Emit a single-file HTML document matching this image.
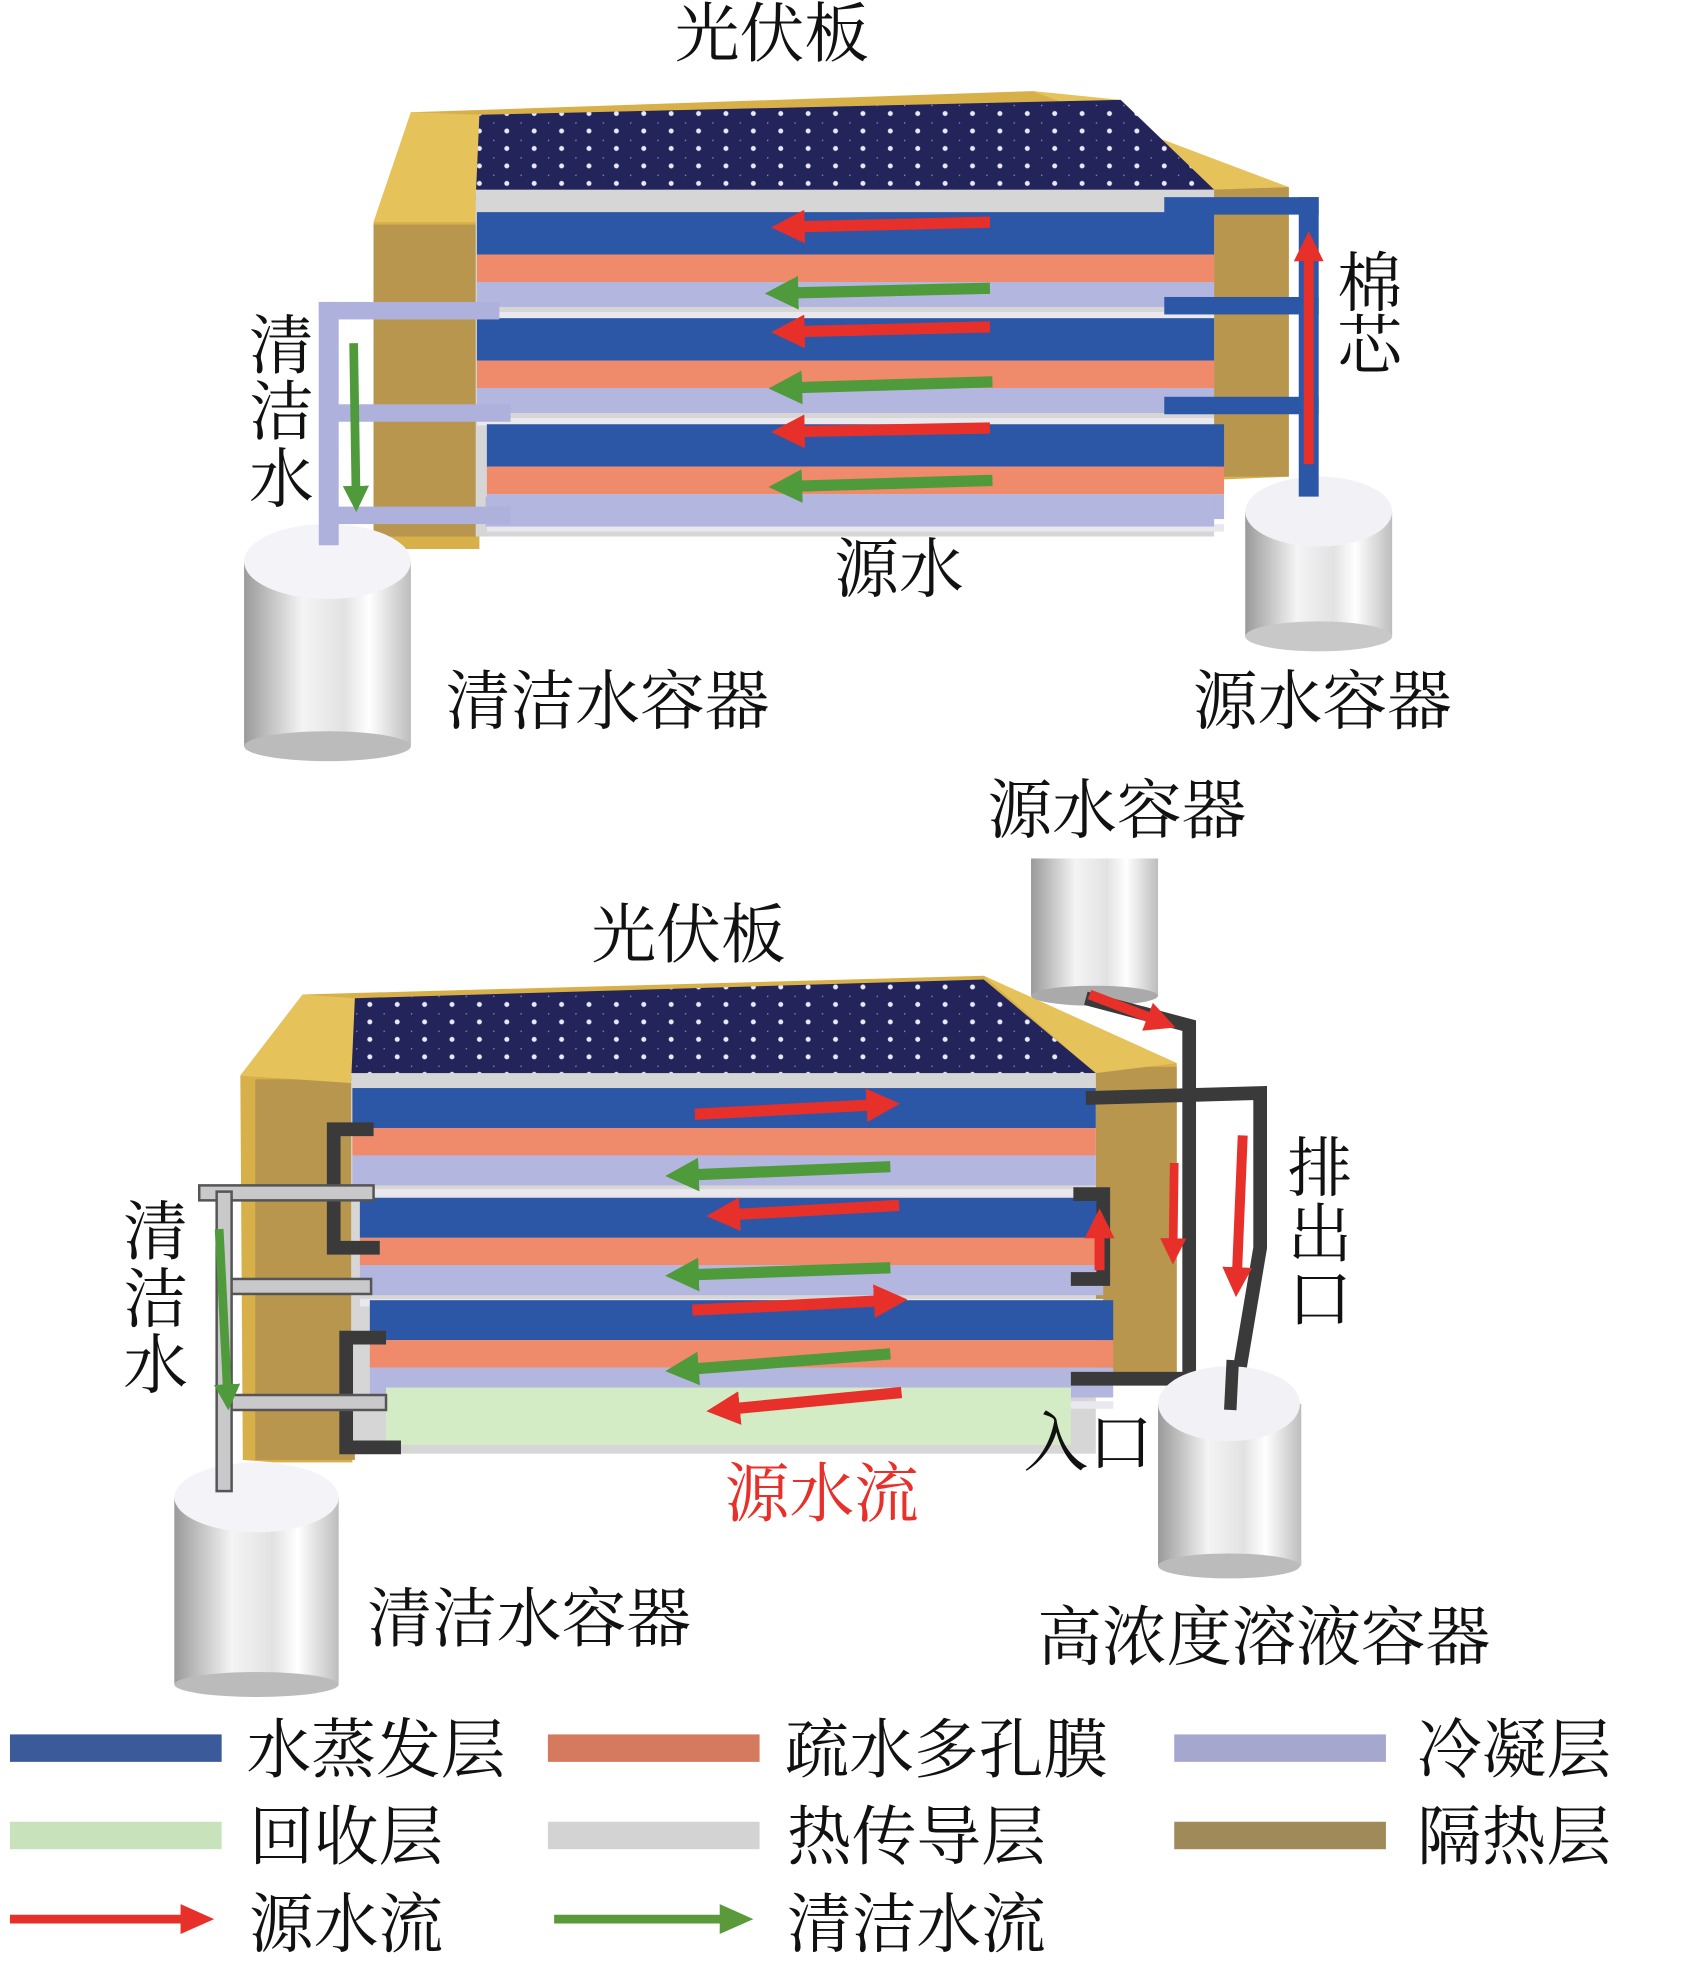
<!DOCTYPE html>
<html><head><meta charset="utf-8"><style>
html,body{margin:0;padding:0;background:#fff;}
svg{display:block;}
text{font-family:"Liberation Serif","Noto Serif CJK SC","Noto Sans CJK SC",serif;fill:#111;}
</style></head><body>
<svg width="1691" height="1964" viewBox="0 0 1358 1574" preserveAspectRatio="none" xmlns="http://www.w3.org/2000/svg">
<defs>
<linearGradient id="cyl" x1="0" x2="1" y1="0" y2="0">
<stop offset="0" stop-color="#9a9a9a"/><stop offset="0.35" stop-color="#f4f4f4"/><stop offset="0.6" stop-color="#e2e2e2"/><stop offset="0.75" stop-color="#ffffff"/><stop offset="1" stop-color="#bdbdbd"/>
</linearGradient>
<pattern id="dots" width="22" height="14" patternUnits="userSpaceOnUse">
<rect width="22" height="14" fill="#23245a"/><circle cx="11" cy="7" r="2" fill="#e8e8ff"/><circle cx="0" cy="0" r="1.2" fill="#8888cc"/>
</pattern>
<marker id="ar" viewBox="0 0 10 10" refX="6" refY="5" markerWidth="3" markerHeight="3" orient="auto"><path d="M0,0L10,5L0,10z" fill="#e8302a"/></marker>
<marker id="ag" viewBox="0 0 10 10" refX="6" refY="5" markerWidth="3" markerHeight="3" orient="auto"><path d="M0,0L10,5L0,10z" fill="#4f9a3a"/></marker>
</defs>

<!-- ===== TOP DIAGRAM ===== -->
<text x="620" y="45" font-size="52" text-anchor="middle">光伏板</text>
<polygon points="300,178 330,90 830,73 1035,150 1035,382 965,385 965,170 385,178 385,440 300,440" fill="#d8b04a"/>
<rect x="300" y="180" width="85" height="250" fill="#b8964e"/>
<rect x="965" y="150" width="70" height="232" fill="#b8964e"/>
<polygon points="300,178 330,90 385,92 385,178" fill="#e6c25a"/>
<polygon points="830,73 1035,150 975,152 900,80" fill="#e6c25a"/>
<polygon points="385,92 900,80 975,152 382,160" fill="url(#dots)"/>
<g>
<rect x="382" y="152" width="593" height="278" fill="#d6d6d6"/>
<g id="grpT">
<rect x="383" y="170" width="592" height="34" fill="#2c56a6"/>
<rect x="383" y="204" width="592" height="22" fill="#ef8a6a"/>
<rect x="383" y="226" width="592" height="20" fill="#b3b6de"/>
<rect x="383" y="250" width="592" height="6" fill="#e8e8ee"/>
</g>
<use href="#grpT" y="85"/>
<use href="#grpT" x="8" y="170"/>
<rect x="390" y="398" width="585" height="24" fill="#b3b6de"/>
</g>
<g stroke-width="9" fill="none">
<line x1="795" y1="178" x2="630" y2="182" stroke="#e8302a" marker-end="url(#ar)"/>
<line x1="795" y1="262" x2="630" y2="266" stroke="#e8302a" marker-end="url(#ar)"/>
<line x1="795" y1="343" x2="630" y2="346" stroke="#e8302a" marker-end="url(#ar)"/>
<line x1="795" y1="231" x2="625" y2="235" stroke="#4f9a3a" marker-end="url(#ag)"/>
<line x1="797" y1="306" x2="628" y2="311" stroke="#4f9a3a" marker-end="url(#ag)"/>
<line x1="797" y1="385" x2="628" y2="390" stroke="#4f9a3a" marker-end="url(#ag)"/>
</g>
<rect x="1000" y="410" width="118" height="100" fill="url(#cyl)"/>
<ellipse cx="1059" cy="410" rx="59" ry="28" fill="#f2f2f6"/>
<ellipse cx="1059" cy="510" rx="59" ry="12" fill="#c8c8c8"/>
<g fill="#2c56a6">
<rect x="1043" y="158" width="16" height="240"/>
<rect x="935" y="158" width="124" height="14"/>
<rect x="935" y="238" width="124" height="14"/>
<rect x="935" y="318" width="124" height="14"/>
</g>
<line x1="1051" y1="372" x2="1051" y2="195" stroke="#e8302a" stroke-width="8" marker-end="url(#ar)"/>
<rect x="196" y="450" width="134" height="148" fill="url(#cyl)"/>
<ellipse cx="263" cy="450" rx="67" ry="30" fill="#f4f4f8"/>
<ellipse cx="263" cy="598" rx="67" ry="12" fill="#bbb"/>
<g fill="#aeb1dc">
<rect x="256" y="242" width="16" height="195"/>
<rect x="256" y="242" width="145" height="14"/>
<rect x="270" y="324" width="140" height="14"/>
<rect x="270" y="406" width="140" height="14"/>
</g>
<line x1="284" y1="275" x2="286" y2="402" stroke="#4f9a3a" stroke-width="7" marker-end="url(#ag)"/>
<text x="226" y="295" font-size="52" text-anchor="middle">清</text>
<text x="226" y="348" font-size="52" text-anchor="middle">洁</text>
<text x="226" y="402" font-size="52" text-anchor="middle">水</text>
<text x="1100" y="245" font-size="52" text-anchor="middle">棉</text>
<text x="1100" y="295" font-size="52" text-anchor="middle">芯</text>
<text x="722" y="474" font-size="52" text-anchor="middle">源水</text>
<text x="358" y="580" font-size="52">清洁水容器</text>
<text x="958" y="580" font-size="52">源水容器</text>

<!-- ===== BOTTOM DIAGRAM ===== -->
<text x="793" y="667" font-size="52">源水容器</text>
<rect x="828" y="688" width="102" height="110" fill="url(#cyl)"/>
<ellipse cx="879" cy="798" rx="51" ry="8" fill="#aaa"/>
<text x="553" y="767" font-size="52" text-anchor="middle">光伏板</text>
<polygon points="193,862 243,797 790,782 945,852 945,1100 880,1100 880,865 283,868 283,1172 220,1172 195,1170" fill="#d8b04a"/>
<rect x="205" y="865" width="80" height="305" fill="#b8964e"/>
<rect x="880" y="855" width="65" height="245" fill="#b8964e"/>
<polygon points="193,862 243,797 285,800 283,868" fill="#e6c25a"/>
<polygon points="790,782 945,852 880,860" fill="#e6c25a"/>
<polygon points="285,800 790,785 880,860 282,866" fill="url(#dots)"/>
<rect x="282" y="860" width="598" height="305" fill="#d6d6d6"/>
<g id="grpB">
<rect x="283" y="872" width="597" height="32" fill="#2c56a6"/>
<rect x="283" y="904" width="597" height="22" fill="#ef8a6a"/>
<rect x="283" y="926" width="597" height="24" fill="#b3b6de"/>
<rect x="283" y="953" width="597" height="6" fill="#e8e8ee"/>
</g>
<use href="#grpB" x="6" y="88"/>
<use href="#grpB" x="14" y="170"/>
<rect x="310" y="1112" width="550" height="46" fill="#d4ecc6"/>
<g stroke-width="9" fill="none">
<line x1="558" y1="893" x2="712" y2="885" stroke="#e8302a" marker-end="url(#ar)"/>
<line x1="722" y1="966" x2="578" y2="974" stroke="#e8302a" marker-end="url(#ar)"/>
<line x1="556" y1="1050" x2="718" y2="1042" stroke="#e8302a" marker-end="url(#ar)"/>
<line x1="724" y1="1116" x2="578" y2="1130" stroke="#e8302a" marker-end="url(#ar)"/>
<line x1="715" y1="935" x2="545" y2="942" stroke="#4f9a3a" marker-end="url(#ag)"/>
<line x1="715" y1="1016" x2="545" y2="1022" stroke="#4f9a3a" marker-end="url(#ag)"/>
<line x1="715" y1="1085" x2="545" y2="1098" stroke="#4f9a3a" marker-end="url(#ag)"/>
</g>
<g fill="none" stroke="#3a3a3a" stroke-width="11" stroke-linejoin="miter">
<polyline points="300,905 268,905 268,1000 305,1000"/>
<polyline points="310,1072 278,1072 278,1160 322,1160"/>
<polyline points="862,957 886,957 886,1025 860,1025"/>
<polyline points="872,800 955,822 955,1105 860,1105"/>
<polyline points="872,880 1012,876 1012,1000 990,1130"/>
</g>
<line x1="883" y1="1018" x2="883" y2="978" stroke="#e8302a" stroke-width="8" marker-end="url(#ar)"/>
<line x1="875" y1="797" x2="935" y2="820" stroke="#e8302a" stroke-width="8" marker-end="url(#ar)"/>
<line x1="943" y1="932" x2="942" y2="1005" stroke="#e8302a" stroke-width="7" marker-end="url(#ar)"/>
<line x1="998" y1="910" x2="993" y2="1030" stroke="#e8302a" stroke-width="8" marker-end="url(#ar)"/>
<rect x="930" y="1125" width="115" height="130" fill="url(#cyl)"/>
<ellipse cx="987" cy="1125" rx="57" ry="30" fill="#f2f2f6"/>
<ellipse cx="987" cy="1255" rx="57" ry="10" fill="#bbb"/>
<line x1="990" y1="1090" x2="988" y2="1130" stroke="#3a3a3a" stroke-width="10"/>
<rect x="140" y="1200" width="132" height="150" fill="url(#cyl)"/>
<ellipse cx="206" cy="1200" rx="66" ry="28" fill="#f4f4f8"/>
<ellipse cx="206" cy="1350" rx="66" ry="10" fill="#bbb"/>
<g fill="#c9c9cc" stroke="#555" stroke-width="2">
<rect x="160" y="950" width="140" height="12"/>
<rect x="178" y="1025" width="120" height="12"/>
<rect x="185" y="1118" width="125" height="12"/>
<rect x="174" y="955" width="12" height="240"/>
</g>
<line x1="176" y1="985" x2="183" y2="1122" stroke="#4f9a3a" stroke-width="7" marker-end="url(#ag)"/>
<text x="125" y="1005" font-size="52" text-anchor="middle">清</text>
<text x="125" y="1059" font-size="52" text-anchor="middle">洁</text>
<text x="125" y="1112" font-size="52" text-anchor="middle">水</text>
<text x="1060" y="954" font-size="52" text-anchor="middle">排</text>
<text x="1060" y="1007" font-size="52" text-anchor="middle">出</text>
<text x="1060" y="1059" font-size="52" text-anchor="middle">口</text>
<text x="822" y="1174" font-size="52">入口</text>
<text x="660" y="1215" font-size="52" text-anchor="middle" style="fill:#e8302a">源水流</text>
<text x="295" y="1315" font-size="52">清洁水容器</text>
<text x="833" y="1330" font-size="52">高浓度溶液容器</text>

<!-- ===== LEGEND ===== -->
<rect x="8" y="1390" width="170" height="22" fill="#3a5a9a"/>
<rect x="440" y="1390" width="170" height="22" fill="#d57a5e"/>
<rect x="943" y="1390" width="170" height="22" fill="#a5a7cf"/>
<rect x="8" y="1460" width="170" height="22" fill="#c8e3bc"/>
<rect x="440" y="1460" width="170" height="22" fill="#d3d3d3"/>
<rect x="943" y="1460" width="170" height="22" fill="#a08a5a"/>
<line x1="8" y1="1538" x2="150" y2="1538" stroke="#e8302a" stroke-width="7"/>
<polygon points="145,1526 172,1538 145,1550" fill="#e8302a"/>
<line x1="445" y1="1538" x2="582" y2="1538" stroke="#5a9a3a" stroke-width="7"/>
<polygon points="578,1526 605,1538 578,1550" fill="#5a9a3a"/>
<text x="198" y="1420" font-size="52">水蒸发层</text>
<text x="630" y="1420" font-size="52">疏水多孔膜</text>
<text x="1138" y="1420" font-size="52">冷凝层</text>
<text x="200" y="1490" font-size="52">回收层</text>
<text x="632" y="1490" font-size="52">热传导层</text>
<text x="1138" y="1490" font-size="52">隔热层</text>
<text x="200" y="1560" font-size="52">源水流</text>
<text x="632" y="1560" font-size="52">清洁水流</text>
</svg>
</body></html>
